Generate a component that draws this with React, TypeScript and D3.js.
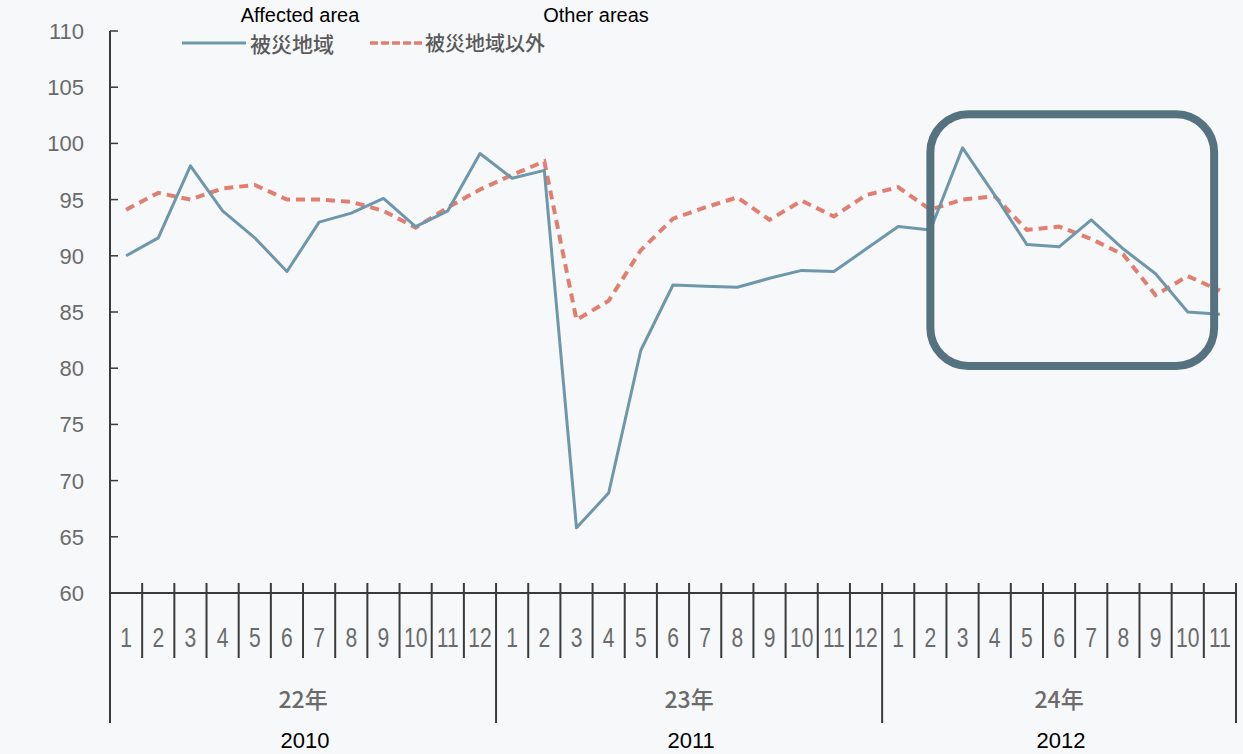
import React, { useEffect, useRef } from 'react';
import * as d3 from 'd3';

// months per year on the x axis
const months2010 = ['1', '2', '3', '4', '5', '6', '7', '8', '9', '10', '11', '12'];
const months2011 = ['1', '2', '3', '4', '5', '6', '7', '8', '9', '10', '11', '12'];
const months2012 = ['1', '2', '3', '4', '5', '6', '7', '8', '9', '10', '11'];
const yearLabels = ['22年', '23年', '24年'];
const yearLabelsEn = ['2010', '2011', '2012'];

const seriesNames = ['被災地域', '被災地域以外'];
const seriesNamesEn = ['Affected area', 'Other areas'];

const affected = [
  90.0, 91.6, 98.0, 94.0, 91.6, 88.6, 93.0, 93.8, 95.1, 92.6, 94.0, 99.1,
  96.9, 97.6, 65.8, 68.9, 81.6, 87.4, 87.3, 87.2, 88.0, 88.7, 88.6, 90.6,
  92.6, 92.3, 99.6, 95.4, 91.0, 90.8, 93.2, 90.6, 88.4, 85.0, 84.8,
];
const otherAreas = [
  94.1, 95.6, 95.0, 96.0, 96.3, 95.0, 95.0, 94.8, 94.0, 92.5, 94.3, 95.9,
  97.2, 98.4, 84.3, 86.0, 90.5, 93.3, 94.3, 95.2, 93.2, 94.9, 93.5, 95.4,
  96.1, 94.1, 95.0, 95.3, 92.3, 92.6, 91.5, 90.1, 86.5, 88.2, 86.9,
];

const yTicks = [60, 65, 70, 75, 80, 85, 90, 95, 100, 105, 110];
// highlighted range (value span of the rounded box)
const boxRange = [102.6, 80.2];

const W = 1243;
const H = 754;

const App: React.FC = () => {
  const svgRef = useRef<SVGSVGElement>(null);

  useEffect(() => {
    if (!svgRef.current) return;
    const svg = d3.select(svgRef.current);
    svg.selectAll('*').remove();

    const yearsMonths = [months2010, months2011, months2012];
    const allMonths = yearsMonths.flatMap((ms, yi) => ms.map((m) => ({ m, yi })));
    const idx = allMonths.map((_, i) => i);

    const x = d3.scaleBand<number>().domain(idx).range([110, 1236]).padding(0);
    const bw = x.bandwidth();
    const cx = (i: number) => x(i)! + bw / 2;
    const y = d3.scaleLinear().domain([60, 110]).range([593, 31]);

    const axisColor = '#3a3a3a';
    const labelColor = '#6b6b6b';

    svg.append('rect').attr('width', W).attr('height', H).attr('fill', '#f6f8f9');

    // y axis
    svg.append('line')
      .attr('x1', 110).attr('x2', 110)
      .attr('y1', y(110)).attr('y2', 723)
      .attr('stroke', axisColor).attr('stroke-width', 2);

    svg.selectAll('.ytick')
      .data(yTicks.filter((t) => t > 60))
      .enter()
      .append('line')
      .attr('x1', 110).attr('x2', 118)
      .attr('y1', (d) => y(d)).attr('y2', (d) => y(d))
      .attr('stroke', axisColor).attr('stroke-width', 1.5);

    svg.selectAll('.ylab')
      .data(yTicks)
      .enter()
      .append('text')
      .attr('x', 84)
      .attr('y', (d) => y(d))
      .attr('dy', '0.36em')
      .attr('text-anchor', 'end')
      .attr('font-family', 'Liberation Sans, Arial, sans-serif')
      .attr('font-size', 22)
      .attr('fill', labelColor)
      .text((d) => d);

    // x axis
    svg.append('line')
      .attr('x1', 110).attr('x2', 1236)
      .attr('y1', y(60)).attr('y2', y(60))
      .attr('stroke', axisColor).attr('stroke-width', 2);

    // month separators
    const yearStart: number[] = [];
    let acc = 0;
    yearsMonths.forEach((ms) => { yearStart.push(acc); acc += ms.length; });
    const isYearEdge = (i: number) => yearStart.includes(i) || i === allMonths.length;

    const edges = d3.range(allMonths.length + 1);
    svg.selectAll('.mtick')
      .data(edges.filter((i) => !isYearEdge(i)))
      .enter()
      .append('line')
      .attr('x1', (i) => x(i)!).attr('x2', (i) => x(i)!)
      .attr('y1', 583).attr('y2', 658)
      .attr('stroke', axisColor).attr('stroke-width', 2);

    svg.selectAll('.ytick2')
      .data(edges.filter((i) => isYearEdge(i) && i > 0))
      .enter()
      .append('line')
      .attr('x1', (i) => (i === allMonths.length ? 1236 : x(i)!))
      .attr('x2', (i) => (i === allMonths.length ? 1236 : x(i)!))
      .attr('y1', 583).attr('y2', 723)
      .attr('stroke', axisColor).attr('stroke-width', 2);

    // narrow month numbers
    svg.selectAll('.mlab')
      .data(allMonths)
      .enter()
      .append('text')
      .attr('transform', (_, i) => `translate(${cx(i)},637) scale(0.78,1)`)
      .attr('dy', '0.36em')
      .attr('text-anchor', 'middle')
      .attr('font-family', 'Liberation Sans, Arial, sans-serif')
      .attr('font-size', 27)
      .attr('fill', labelColor)
      .text((d) => d.m);

    // year labels
    const yearCenter = (yi: number) => {
      const s = yearStart[yi];
      const e = s + yearsMonths[yi].length - 1;
      return (x(s)! + x(e)! + bw) / 2;
    };
    svg.selectAll('.yr')
      .data(yearLabels)
      .enter()
      .append('text')
      .attr('x', (_, i) => yearCenter(i))
      .attr('y', 700)
      .attr('dy', '0.36em')
      .attr('text-anchor', 'middle')
      .attr('font-family', 'Noto Sans CJK JP, sans-serif')
      .attr('font-weight', 500)
      .attr('font-size', 23)
      .attr('fill', labelColor)
      .text((d) => d);

    svg.selectAll('.yrEn')
      .data(yearLabelsEn)
      .enter()
      .append('text')
      .attr('x', (_, i) => yearCenter(i) + 2)
      .attr('y', 740)
      .attr('dy', '0.36em')
      .attr('text-anchor', 'middle')
      .attr('font-family', 'Liberation Sans, Arial, sans-serif')
      .attr('font-size', 22)
      .attr('fill', '#000')
      .text((d) => d);

    // lines
    const line = d3.line<number>()
      .x((_, i) => cx(i))
      .y((d) => y(d));

    svg.append('path')
      .datum(otherAreas)
      .attr('d', line)
      .attr('fill', 'none')
      .attr('stroke', '#e27e70')
      .attr('stroke-width', 4)
      .attr('stroke-dasharray', '9 6');

    svg.append('path')
      .datum(affected)
      .attr('d', line)
      .attr('fill', 'none')
      .attr('stroke', '#6e97ab')
      .attr('stroke-width', 3)
      .attr('stroke-linejoin', 'round');

    // highlight box
    const bx0 = cx(25);
    const bx1 = x(34)! + bw * 0.32;
    svg.append('rect')
      .attr('x', bx0)
      .attr('y', y(boxRange[0]))
      .attr('width', bx1 - bx0)
      .attr('height', y(boxRange[1]) - y(boxRange[0]))
      .attr('rx', 38)
      .attr('fill', 'none')
      .attr('stroke', '#567281')
      .attr('stroke-width', 8);

    // legend
    const legend = svg.append('g');
    legend.append('line')
      .attr('x1', 182).attr('x2', 246).attr('y1', 43).attr('y2', 43)
      .attr('stroke', '#6e97ab').attr('stroke-width', 3);
    legend.append('text')
      .attr('x', 250).attr('y', 44).attr('dy', '0.36em')
      .attr('font-family', 'Noto Sans CJK JP, sans-serif')
      .attr('font-weight', 500)
      .attr('font-size', 21)
      .attr('fill', '#5a5a5a')
      .text(seriesNames[0]);
    legend.append('line')
      .attr('x1', 370).attr('x2', 422).attr('y1', 43).attr('y2', 43)
      .attr('stroke', '#e27e70').attr('stroke-width', 3.5)
      .attr('stroke-dasharray', '8 3');
    legend.append('text')
      .attr('x', 425).attr('y', 44).attr('dy', '0.36em')
      .attr('font-family', 'Noto Sans CJK JP, sans-serif')
      .attr('font-weight', 500)
      .attr('font-size', 20)
      .attr('fill', '#5a5a5a')
      .text(seriesNames[1]);

    // english annotations
    svg.selectAll('.en')
      .data(seriesNamesEn)
      .enter()
      .append('text')
      .attr('x', (_, i) => (i === 0 ? 300 : 596))
      .attr('y', 15)
      .attr('dy', '0.36em')
      .attr('text-anchor', 'middle')
      .attr('font-family', 'Liberation Sans, Arial, sans-serif')
      .attr('font-size', 20)
      .attr('fill', '#000')
      .text((d) => d);
  }, []);

  return (
    <svg
      ref={svgRef}
      width={W}
      height={H}
      style={{ position: 'absolute', left: 0, top: 0 }}
    />
  );
};

export default App;
